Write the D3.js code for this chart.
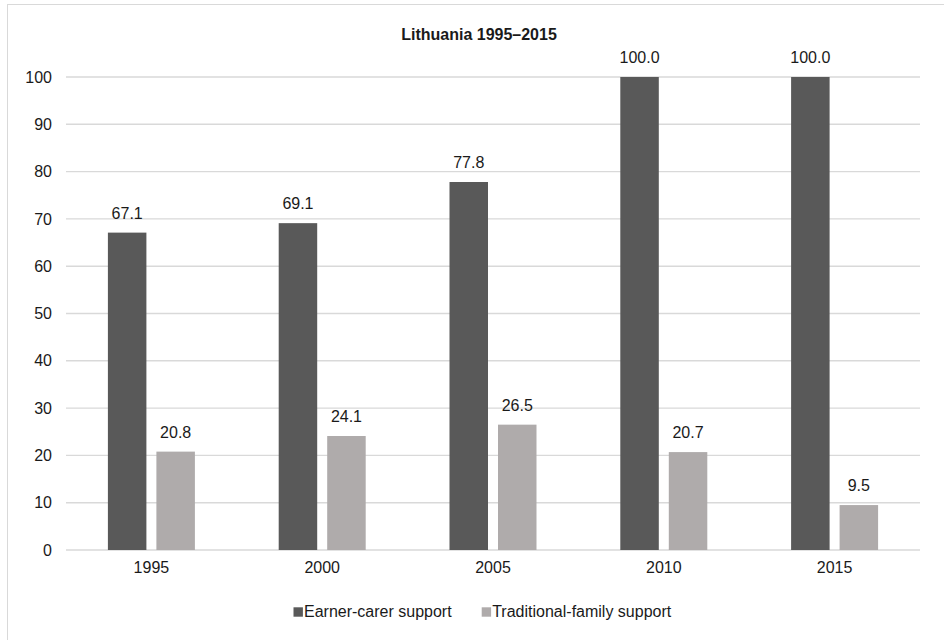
<!DOCTYPE html>
<html>
<head>
<meta charset="utf-8">
<script src="https://cdn.jsdelivr.net/npm/d3@7"></script>
<style>
  html, body { margin: 0; padding: 0; background: #fff; }
  svg { display: block; font-family: "Liberation Sans", Arial, sans-serif; }
</style>
</head>
<body>
<svg id="chart" width="944" height="640"></svg>
<script>
// Lithuania: index of family-policy support, 1995–2015
const years = ["1995", "2000", "2005", "2010", "2015"];
const earnerCarer = [67.1, 69.1, 77.8, 100.0, 100.0];
const traditionalFamily = [20.8, 24.1, 26.5, 20.7, 9.5];
const yTicks = [0, 10, 20, 30, 40, 50, 60, 70, 80, 90, 100];
const seriesNames = ["Earner-carer support", "Traditional-family support"];
const seriesColors = ["#595959", "#AFABAB"];
const titleText = "Lithuania 1995\u20132015";

const svg = d3.select("#chart");
const textColor = "#1a1a1a";
const fontSize = 16;

// outer chart frame
svg.append("rect")
  .attr("x", 7.5).attr("y", 4.5)
  .attr("width", 960).attr("height", 660)
  .attr("fill", "none")
  .attr("stroke", "#d9d9d9")
  .attr("stroke-width", 1);

const plot = { left: 66, right: 920, top: 77, bottom: 550 };

const x = d3.scaleBand().domain(years).range([plot.left, plot.right]).padding(0);
const y = d3.scaleLinear().domain([0, 100]).range([plot.bottom, plot.top]);

const barWidth = 38.5;
const barGap = 10;

// horizontal gridlines
svg.append("g")
  .selectAll("line")
  .data(yTicks)
  .join("line")
  .attr("x1", plot.left).attr("x2", plot.right)
  .attr("y1", d => y(d)).attr("y2", d => y(d))
  .attr("stroke", "#d9d9d9")
  .attr("stroke-width", 1.4);

// y axis labels
const yAxis = d3.axisLeft(y).tickValues(yTicks).tickSize(0).tickPadding(14);
svg.append("g")
  .attr("transform", `translate(${plot.left},0)`)
  .call(yAxis)
  .call(g => g.select(".domain").remove())
  .call(g => g.selectAll("text")
    .attr("font-size", fontSize)
    .attr("font-family", "Liberation Sans, Arial, sans-serif")
    .attr("fill", textColor));

// x axis labels
const xAxis = d3.axisBottom(x).tickSize(0).tickPadding(12);
svg.append("g")
  .attr("transform", `translate(0,${plot.bottom})`)
  .call(xAxis)
  .call(g => g.select(".domain").remove())
  .call(g => g.selectAll("text")
    .attr("font-size", fontSize)
    .attr("font-family", "Liberation Sans, Arial, sans-serif")
    .attr("fill", textColor));

// bars and value labels
const series = [earnerCarer, traditionalFamily];
series.forEach((vals, si) => {
  const offset = si === 0 ? -(barGap / 2 + barWidth) : barGap / 2;
  const data = years.map((yr, i) => ({ yr, v: vals[i] }));
  const g = svg.append("g");
  g.selectAll("rect")
    .data(data)
    .join("rect")
    .attr("x", d => x(d.yr) + x.bandwidth() / 2 + offset)
    .attr("y", d => y(d.v))
    .attr("width", barWidth)
    .attr("height", d => y(0) - y(d.v))
    .attr("fill", seriesColors[si]);
  g.selectAll("text")
    .data(data)
    .join("text")
    .attr("x", d => x(d.yr) + x.bandwidth() / 2 + offset + barWidth / 2)
    .attr("y", d => y(d.v) - 14)
    .attr("text-anchor", "middle")
    .attr("font-size", fontSize)
    .attr("fill", textColor)
    .text(d => d3.format(".1f")(d.v));
});

// title
svg.append("text")
  .attr("x", 479)
  .attr("y", 40)
  .attr("text-anchor", "middle")
  .attr("font-size", fontSize)
  .attr("font-weight", "bold")
  .attr("fill", textColor)
  .text(titleText);

// legend
const legendItems = [
  { name: seriesNames[0], color: seriesColors[0], x: 293.5 },
  { name: seriesNames[1], color: seriesColors[1], x: 481.7 }
];
const legend = svg.append("g");
legendItems.forEach(item => {
  legend.append("rect")
    .attr("x", item.x).attr("y", 607.3)
    .attr("width", 9.4).attr("height", 9.4)
    .attr("fill", item.color);
  legend.append("text")
    .attr("x", item.x + 10.5)
    .attr("y", 617.3)
    .attr("font-size", fontSize)
    .attr("fill", textColor)
    .text(item.name);
});
</script>
</body>
</html>
